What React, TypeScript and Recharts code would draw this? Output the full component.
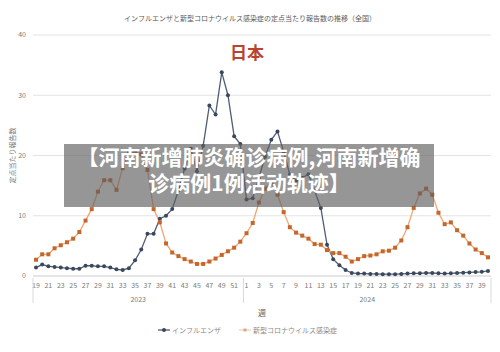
import React from "react";
import { LineChart, Line, XAxis, YAxis, CartesianGrid, Legend } from "recharts";

const weeks2023 = [19, 20, 21, 22, 23, 24, 25, 26, 27, 28, 29, 30, 31, 32, 33, 34, 35, 36, 37, 38, 39, 40, 41, 42, 43, 44, 45, 46, 47, 48, 49, 50, 51, 52];
const weeks2024 = [1, 2, 3, 4, 5, 6, 7, 8, 9, 10, 11, 12, 13, 14, 15, 16, 17, 18, 19, 20, 21, 22, 23, 24, 25, 26, 27, 28, 29, 30, 31, 32, 33, 34, 35, 36, 37, 38, 39, 40];

const flu2023 = [1.4, 1.9, 1.6, 1.5, 1.4, 1.3, 1.2, 1.2, 1.7, 1.7, 1.6, 1.6, 1.4, 1.1, 1.0, 1.3, 2.6, 4.4, 7.0, 7.0, 9.5, 10.0, 11.1, 14.2, 17.8, 21.1, 17.4, 21.6, 28.3, 26.8, 33.8, 30.0, 23.2, 21.9];
const flu2024 = [12.7, 12.9, 16.3, 19.8, 22.6, 24.0, 20.6, 16.8, 15.8, 16.3, 16.9, 14.2, 11.3, 5.2, 2.8, 1.8, 1.0, 0.5, 0.4, 0.4, 0.35, 0.35, 0.3, 0.3, 0.3, 0.35, 0.4, 0.45, 0.45, 0.5, 0.5, 0.45, 0.4, 0.45, 0.5, 0.55, 0.6, 0.65, 0.7, 0.85];

const covid2023 = [2.7, 3.6, 3.6, 4.6, 5.1, 5.6, 6.2, 7.3, 9.2, 11.1, 14.0, 15.9, 15.9, 14.3, 17.9, 20.5, 20.6, 20.2, 17.6, 11.1, 8.9, 5.4, 3.9, 3.3, 2.8, 2.4, 2.0, 2.0, 2.4, 2.9, 3.5, 4.1, 4.7, 5.7];
const covid2024 = [7.1, 8.8, 12.2, 14.5, 15.5, 13.5, 10.6, 8.1, 7.2, 6.7, 6.2, 5.3, 5.2, 4.3, 3.8, 3.8, 3.2, 2.4, 2.8, 3.3, 3.4, 3.6, 4.1, 4.2, 4.7, 5.9, 8.1, 11.3, 13.7, 14.5, 13.5, 10.5, 8.6, 8.9, 7.6, 6.7, 5.4, 4.4, 3.8, 3.1];

const yTicks = [0, 10, 20, 30, 40];
const yearLabels = ["2023", "2024"];

const data = [
  ...weeks2023.map((w, i) => ({ key: `2023-${w}`, week: w, flu: flu2023[i], covid: covid2023[i] })),
  ...weeks2024.map((w, i) => ({ key: `2024-${w}`, week: w, flu: flu2024[i], covid: covid2024[i] })),
];

const JP = '"Noto Sans CJK JP", "Noto Sans", sans-serif';
const SC = '"Noto Sans CJK SC", sans-serif';
const FLU_LINE = "#4e5d76";
const FLU_DOT = "#3a475c";
const COVID_LINE = "#f0a574";
const COVID_DOT = "#c4672d";
const TXT = "#7a7a7a";

// plot geometry (for the separators under the x axis)
const PLOT_LEFT = 33;
const PLOT_RIGHT = 491;
const PAD = 3;
const STEP = (PLOT_RIGHT - PLOT_LEFT - 2 * PAD) / (data.length - 1);
const firstOf2024 = weeks2023.length;
const mid2023 = Math.floor((weeks2023.length - 1) / 2);
const mid2024 = firstOf2024 + Math.floor((weeks2024.length - 1) / 2);

function WeekTick(props: any) {
  const { x, y, payload } = props;
  const i = payload.index;
  const row = data[i];
  const sep = (sx: number) => <line x1={sx} y1={y + 2} x2={sx} y2={y + 27} stroke="#d9d9d9" strokeWidth={1} />;
  return (
    <g>
      {i % 2 === 0 && (
        <text x={x} y={y + 12} textAnchor="middle" fontSize={7} fill={TXT} fontFamily={JP}>
          {row.week}
        </text>
      )}
      {i === 0 && sep(x - PAD)}
      {i === firstOf2024 && sep(x - STEP / 2)}
      {i === data.length - 1 && sep(x + PAD)}
      {i === mid2023 && (
        <text x={x + STEP / 2} y={y + 26} textAnchor="middle" fontSize={7} fill={TXT} fontFamily={JP}>
          {yearLabels[0]}
        </text>
      )}
      {i === mid2024 && (
        <text x={x + STEP / 2} y={y + 26} textAnchor="middle" fontSize={7} fill={TXT} fontFamily={JP}>
          {yearLabels[1]}
        </text>
      )}
    </g>
  );
}

function YLabel(props: any) {
  const vb = props.viewBox || { x: 0, y: 35, width: 33, height: 241 };
  const cx = vb.x + 11.5;
  const cy = vb.y + vb.height / 2;
  return (
    <text x={cx} y={cy} transform={`rotate(-90 ${cx} ${cy})`} textAnchor="middle" dominantBaseline="central" fontSize={7} fill={TXT} fontFamily={JP}>
      定点当たり報告数
    </text>
  );
}

function LegendContent() {
  return (
    <div style={{ display: "flex", justifyContent: "center", alignItems: "center", height: 14, fontSize: 7, color: "#8a8a8a", fontFamily: JP, paddingLeft: 4 }}>
      <span style={{ display: "flex", alignItems: "center" }}>
        <svg width={12} height={6}>
          <line x1={0} y1={3} x2={12} y2={3} stroke={FLU_LINE} strokeWidth={1.3} />
          <circle cx={6} cy={3} r={2} fill={FLU_DOT} />
        </svg>
        <span style={{ marginLeft: 2 }}>インフルエンザ</span>
      </span>
      <span style={{ display: "flex", alignItems: "center", marginLeft: 18 }}>
        <svg width={12} height={6}>
          <line x1={0} y1={3} x2={12} y2={3} stroke={COVID_LINE} strokeWidth={1.3} opacity={0.5} />
          <rect x={4.5} y={1.5} width={3} height={3} fill={COVID_DOT} opacity={0.5} />
        </svg>
        <span style={{ marginLeft: 2 }}>新型コロナウイルス感染症</span>
      </span>
    </div>
  );
}

export default function App() {
  return (
    <div style={{ position: "absolute", left: 0, top: 0, width: 500, height: 352, background: "#fff", overflow: "hidden" }}>
      <div style={{ position: "absolute", left: 0, top: 12, width: 500, textAlign: "center", fontSize: 7, color: "#595959", fontFamily: JP, lineHeight: "12px" }}>
        インフルエンザと新型コロナウイルス感染症の定点当たり報告数の推移（全国）
      </div>
      <LineChart width={500} height={352} data={data} margin={{ top: 35, right: 9, left: 0, bottom: 15 }}>
        <CartesianGrid vertical={false} stroke="#e3e3e3" />
        <XAxis
          dataKey="key"
          interval={0}
          height={47}
          padding={{ left: PAD, right: PAD }}
          tickLine={false}
          tickSize={0}
          tickMargin={0}
          axisLine={{ stroke: "#d9d9d9" }}
          tick={<WeekTick />}
          label={{ value: "週", position: "insideBottom", offset: 7, fontSize: 8, fill: "#595959", fontFamily: JP }}
        />
        <YAxis
          width={33}
          domain={[0, 40]}
          ticks={yTicks}
          axisLine={false}
          tickLine={false}
          tickSize={0}
          tickMargin={7}
          tick={{ fontSize: 7, fill: TXT, fontFamily: JP }}
          label={<YLabel />}
        />
        <Legend verticalAlign="bottom" content={<LegendContent />} />
        <Line
          dataKey="flu"
          name="インフルエンザ"
          stroke={FLU_LINE}
          strokeWidth={1.3}
          isAnimationActive={false}
          dot={(p: any) => <circle key={`f${p.index}`} cx={p.cx} cy={p.cy} r={2} fill={FLU_DOT} />}
          activeDot={false}
        />
        <Line
          dataKey="covid"
          name="新型コロナウイルス感染症"
          stroke={COVID_LINE}
          strokeWidth={1.3}
          isAnimationActive={false}
          dot={(p: any) => <rect key={`c${p.index}`} x={p.cx - 2} y={p.cy - 2} width={4} height={4} fill={COVID_DOT} />}
          activeDot={false}
        />
      </LineChart>
      <div style={{ position: "absolute", left: 0, top: 40, width: 494, textAlign: "center", fontSize: 17, fontWeight: 700, color: "#b8432f", fontFamily: JP, lineHeight: "24px" }}>
        日本
      </div>
      <div
        style={{
          position: "absolute",
          left: 64,
          top: 144,
          width: 370,
          height: 63,
          background: "rgba(95,95,95,0.66)",
          color: "#fff",
          fontFamily: SC,
          fontWeight: 700,
          fontSize: 21,
          lineHeight: "26px",
          textAlign: "center",
        }}
      >
        <div style={{ marginTop: -1 }}>【河南新增肺炎确诊病例,河南新增确</div>
        <div>诊病例1例活动轨迹】</div>
      </div>
    </div>
  );
}
